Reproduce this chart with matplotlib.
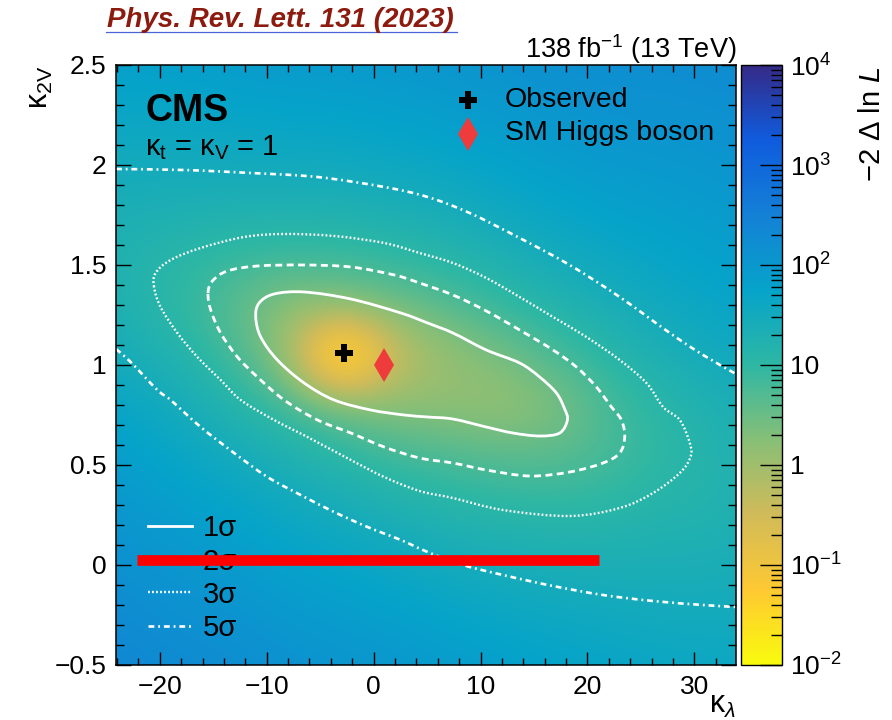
import numpy as np
import matplotlib
matplotlib.use("Agg")
import matplotlib.pyplot as plt
from matplotlib.colors import LinearSegmentedColormap, LogNorm, Normalize
from matplotlib.cm import ScalarMappable
from matplotlib.path import Path
from matplotlib.patches import PathPatch
from matplotlib.ticker import MultipleLocator, LogLocator, FixedLocator, FixedFormatter, NullFormatter

plt.rcParams['font.family'] = ['Liberation Sans', 'DejaVu Sans']
plt.rcParams['mathtext.fontset'] = 'custom'
plt.rcParams['mathtext.rm'] = 'Liberation Sans'
plt.rcParams['mathtext.it'] = 'Liberation Sans:italic'
plt.rcParams['mathtext.bf'] = 'Liberation Sans:bold'
plt.rcParams['lines.scale_dashes'] = False

# ---------------------------------------------------------------- data
# -2 Delta ln L on a coarse scan grid (rows: kappa_2V, columns: kappa_lambda)
kl_nodes = [-28, -23, -18, -13, -8, -3, 2, 7, 12, 17, 22, 27, 32, 37]
k2v_nodes = [-0.7, -0.45, -0.2, 0.05, 0.3, 0.55, 0.8, 1.05, 1.3, 1.55, 1.8, 2.05, 2.3, 2.55]
nll_grid = [
    [290, 247, 215, 201, 162, 144, 130, 106, 90, 75, 64, 52, 50, 49.6],
    [240, 202, 171, 155, 122, 105, 92, 74, 62, 53, 46, 40, 38.7, 38],
    [195, 162, 133, 114, 87, 72, 60.7, 47.6, 39.8, 34.6, 31.3, 29.3, 28.7, 29.5],
    [155, 126, 99, 80, 58, 46, 35.9, 27.2, 22.8, 20.4, 19.7, 21, 20.6, 28.3],
    [120, 95, 70, 51.7, 35.2, 25.4, 18.1, 13.4, 11.0, 10.3, 11.1, 14.1, 15.3, 21.2],
    [88, 68, 46, 29.6, 18.6, 11.8, 6.9, 5.4, 4.37, 4.16, 5.94, 9.8, 14.8, 20.5],
    [60, 45, 27.4, 14.4, 6.7, 2.6, 1.67, 1.46, 1.15, 1.85, 6.09, 11.9, 19.1, 26.4],
    [38, 24.8, 15.2, 6.4, 1.16, 0.003, 0.35, 1.19, 2.4, 5.8, 11.5, 22, 30.7, 40],
    [26, 16.4, 9.3, 3.97, 1.51, 1.83, 2.82, 4.8, 8.6, 15.1, 24, 35, 46, 57],
    [23, 15.6, 11.9, 8.7, 7.9, 8.2, 9.9, 13.4, 20.6, 30.7, 41.6, 52, 65, 78],
    [26, 22.5, 21, 19.6, 19.3, 20, 23.4, 28.7, 38.8, 52, 65, 74, 86, 101],
    [34, 32.8, 33, 34.6, 36.5, 38, 43.7, 51, 64, 80, 94, 100, 113, 128],
    [50, 48.7, 50, 56, 61, 63, 71, 80, 95, 113, 129, 132, 144, 159],
    [70, 70, 73, 84, 91, 93, 104, 116, 132, 151, 169, 165, 178, 190],
]

# confidence contours (kappa_lambda, kappa_2V)
c1_kl = [-11.03, -10.71, -9.31, -6.50, -2.13, 2.55, 5.05, 7.42, 10.54, 13.66, 15.53, 17.10, 17.87,
         18.13, 17.41, 15.53, 13.03, 10.54, 7.42, 5.05, 2.87, -0.26, -3.69, -6.50, -9.00, -10.56]
c1_k2v = [1.24, 1.31, 1.355, 1.365, 1.33, 1.26, 1.21, 1.16, 1.075, 1.01, 0.94, 0.86, 0.78,
          0.725, 0.66, 0.645, 0.66, 0.69, 0.73, 0.74, 0.75, 0.775, 0.825, 0.91, 1.025, 1.14]
c2_kl = [-15.49, -15.08, -13.68, -10.87, -6.50, -2.13, 1.93, 4.30, 7.42, 10.54, 13.66, 16.78, 18.97,
         20.84, 22.25, 23.18, 23.49, 23.02, 21.46, 18.34, 14.60, 10.54, 7.42, 4.30, 0.99, -2.13,
         -5.25, -8.37, -10.87, -12.74, -14.31, -15.24]
c2_k2v = [1.36, 1.42, 1.47, 1.495, 1.50, 1.49, 1.45, 1.41, 1.35, 1.27, 1.175, 1.075, 0.99,
          0.89, 0.79, 0.725, 0.64, 0.56, 0.51, 0.465, 0.445, 0.475, 0.51, 0.535, 0.59, 0.66,
          0.725, 0.825, 0.94, 1.04, 1.16, 1.275]
c3_kl = [-20.54, -20.39, -18.99, -16.18, -12.12, -8.37, -3.69, 0.99, 4.30, 7.42, 10.54, 13.66,
         16.78, 19.91, 23.02, 25.52, 27.08, 28.64, 29.58, 29.64, 28.64, 26.14, 23.02, 18.34, 12.10,
         7.42, 4.30, 0.99, -2.13, -6.19, -9.31, -12.43, -14.31, -16.49, -18.36, -19.93]
c3_k2v = [1.39, 1.46, 1.525, 1.585, 1.64, 1.655, 1.645, 1.61, 1.56, 1.51, 1.435, 1.34,
          1.24, 1.14, 1.025, 0.91, 0.79, 0.725, 0.61, 0.54, 0.46, 0.36, 0.285, 0.245, 0.275,
          0.335, 0.37, 0.44, 0.525, 0.64, 0.725, 0.825, 0.925, 1.04, 1.16, 1.29]
c5_upper_kl = [-24.1, -17.73, -11.50, -5.25, 0.99, 5.05, 8.98, 13.66, 18.34, 23.02, 27.71, 30.82, 33.9]
c5_upper_k2v = [1.98, 1.975, 1.96, 1.94, 1.89, 1.84, 1.76, 1.635, 1.50, 1.34, 1.16, 1.05, 0.955]
c5_lower_kl = [-24.1, -22.73, -20.23, -18.99, -16.18, -13.05, -9.93, -6.82, -3.69, -0.57, 2.55,
               5.05, 8.35, 12.10, 16.78, 21.46, 26.14, 30.82, 33.9]
c5_lower_k2v = [1.08, 1.015, 0.875, 0.825, 0.69, 0.56, 0.44, 0.35, 0.265, 0.19, 0.125,
                0.065, 0.0, -0.05, -0.105, -0.15, -0.18, -0.20, -0.21]

best_fit = (-2.8, 1.06)
sm_point = (1.0, 1.0)

sigma_labels = ["1\u03c3", "2\u03c3", "3\u03c3", "5\u03c3"]
cbar_ticks = [1e-2, 1e-1, 1, 10, 1e2, 1e3, 1e4]
cbar_ticklabels = [r"$10^{-2}$", r"$10^{-1}$", "1", "10", r"$10^{2}$", r"$10^{3}$", r"$10^{4}$"]

# strike bar over the legend
strike_kl = [-22.1, 21.06]
strike_k2v = [0.027, 0.027]

# ---------------------------------------------------------------- style
bird = [(0.2082, 0.1664, 0.5293), (0.0592, 0.3599, 0.8684), (0.0780, 0.5041, 0.8385),
        (0.0232, 0.6419, 0.7914), (0.1802, 0.7178, 0.6425), (0.5301, 0.7492, 0.4662),
        (0.8186, 0.7328, 0.3499), (0.9956, 0.7862, 0.1968), (0.9764, 0.9832, 0.0539)]
cmap = LinearSegmentedColormap.from_list("bird_r", bird[::-1], N=512)

style_1 = dict(color="white", lw=2.0, linestyle="-")
style_2 = dict(color="white", lw=2.0, linestyle=(0, (5.0, 3.2)))
style_3 = dict(color="white", lw=1.7, linestyle=(0, (1.3, 1.6)))
style_5 = dict(color="white", lw=1.9, linestyle=(0, (4.2, 2.8, 1.3, 2.8)))
styles = [style_1, style_2, style_3, style_5]

W, H = 892, 720
fig = plt.figure(figsize=(W / 100, H / 100), dpi=100)
ax_l, ax_r, ax_t, ax_b = 116, 736, 65, 665
ax = fig.add_axes([ax_l / W, 1 - ax_b / H, (ax_r - ax_l) / W, (ax_b - ax_t) / H])
cax = fig.add_axes([741 / W, 1 - ax_b / H, 41 / W, (ax_b - ax_t) / H])

# ---------------------------------------------------------------- heat map
grid = np.array(nll_grid, dtype=float)
dx = kl_nodes[1] - kl_nodes[0]
dy = k2v_nodes[1] - k2v_nodes[0]
extent = (kl_nodes[0] - dx / 2, kl_nodes[-1] + dx / 2, k2v_nodes[0] - dy / 2, k2v_nodes[-1] + dy / 2)
ax.imshow(np.log10(grid), cmap=cmap, norm=Normalize(-2, 4), origin="lower", extent=extent,
          aspect="auto", interpolation="bicubic", zorder=0)


# ---------------------------------------------------------------- contours
def smooth_path(xs, ys, closed):
    """Cubic Bezier path through the given points (Catmull-Rom tangents)."""
    p = np.column_stack([xs, ys]).astype(float)
    n = len(p)
    if closed:
        idx = lambda i: p[i % n]
        segs = range(n)
    else:
        idx = lambda i: p[min(max(i, 0), n - 1)]
        segs = range(n - 1)
    verts = [p[0]]
    codes = [Path.MOVETO]
    for i in segs:
        p0, p1, p2, p3 = idx(i - 1), idx(i), idx(i + 1), idx(i + 2)
        verts += [p1 + (p2 - p0) / 6.0, p2 - (p3 - p1) / 6.0, p2]
        codes += [Path.CURVE4] * 3
    return Path(verts, codes)


def draw_contour(xs, ys, closed, style):
    patch = PathPatch(smooth_path(xs, ys, closed), fill=False, edgecolor=style["color"],
                      lw=style["lw"], linestyle=style["linestyle"], capstyle="butt", zorder=3)
    ax.add_patch(patch)


draw_contour(c1_kl, c1_k2v, True, style_1)
draw_contour(c2_kl, c2_k2v, True, style_2)
draw_contour(c3_kl, c3_k2v, True, style_3)
draw_contour(c5_upper_kl, c5_upper_k2v, False, style_5)
draw_contour(c5_lower_kl, c5_lower_k2v, False, style_5)

ax.plot(*best_fit, marker="P", ms=13.5, color="black", mec="black", mew=0, ls="none", zorder=5)
ax.plot(*sm_point, marker="d", ms=17, color="#EE3B3B", mew=0, ls="none", zorder=5)

ax.set_xlim(-24.1, 33.9)
ax.set_ylim(-0.5, 2.5)

# ---------------------------------------------------------------- axes
ax.xaxis.set_minor_locator(MultipleLocator(2))
ax.yaxis.set_minor_locator(MultipleLocator(0.1))
ax.set_xticks([-20, -10, 0, 10, 20, 30])
ax.set_xticklabels(["\u221220", "\u221210", "0", "10", "20", "30"])
ax.set_yticks([-0.5, 0, 0.5, 1, 1.5, 2, 2.5])
ax.set_yticklabels(["\u22120.5", "0", "0.5", "1", "1.5", "2", "2.5"])
ax.tick_params(which="both", direction="in", top=True, right=True, width=1.0, labelsize=19,
               colors="black")
ax.xaxis.set_tick_params(which="major", length=9.5, pad=7)
ax.xaxis.set_tick_params(which="minor", length=5)
ax.yaxis.set_tick_params(which="major", length=10.5, pad=7)
ax.yaxis.set_tick_params(which="minor", length=5.5)
for s in ax.spines.values():
    s.set_linewidth(1.1)
    s.set_zorder(10)

# ---------------------------------------------------------------- colour bar
cb = fig.colorbar(ScalarMappable(norm=LogNorm(1e-2, 1e4), cmap=cmap), cax=cax)
cb.outline.set_linewidth(1.0)
cax.yaxis.set_ticks_position("right")
cax.yaxis.set_major_locator(FixedLocator(cbar_ticks))
cax.yaxis.set_major_formatter(FixedFormatter(cbar_ticklabels))
cax.yaxis.set_minor_locator(LogLocator(base=10, subs=np.arange(2, 10), numticks=20))
cax.yaxis.set_minor_formatter(NullFormatter())
cax.tick_params(which="both", direction="in", width=1.0, labelsize=19, pad=6)
cax.tick_params(which="major", length=16)
cax.tick_params(which="minor", length=8)

# ---------------------------------------------------------------- legends and labels
for i, (lbl, st) in enumerate(zip(sigma_labels, styles)):
    fy = (ax_b - (526 + 33.2 * i)) / (ax_b - ax_t)
    ax.plot([0.052, 0.122], [fy, fy], transform=ax.transAxes, **st, zorder=6)
    ax.text(0.140, fy - 0.004, lbl, transform=ax.transAxes, fontsize=21, va="center", ha="left", zorder=6)

ax.plot([0.568], [0.9417], transform=ax.transAxes, marker="P", ms=13.5, color="black", mew=0, zorder=6)
ax.text(0.627, 0.9417, "Observed", transform=ax.transAxes, fontsize=20.5, va="center", ha="left")
ax.plot([0.568], [0.8850], transform=ax.transAxes, marker="d", ms=17, color="#EE3B3B", mew=0, zorder=6)
ax.text(0.627, 0.8867, "SM Higgs boson", transform=ax.transAxes, fontsize=20.5, va="center", ha="left")

ax.text(0.047, 0.953, "CMS", transform=ax.transAxes, fontsize=27, fontweight="bold", va="top", ha="left")
ax.text(0.047, 0.862, "\u03ba$_{\\mathrm{t}}$ = \u03ba$_{\\mathrm{V}}$ = 1", transform=ax.transAxes,
        fontsize=21, va="center", ha="left")

ax.plot(strike_kl, strike_k2v, color="red", lw=7.7, solid_capstyle="butt", zorder=8)

fig.text(ax_r / W, 1 - 58 / H, "138 fb$^{\\mathrm{-1}}$ (13 TeV)", fontsize=19.5, ha="right", va="baseline")
fig.text(40 / W, 1 - 65 / H, "\u03ba$_{\\mathrm{2V}}$", fontsize=22, rotation=90, ha="center", va="top")
fig.text(ax_r / W, 1 - 713 / H, "\u03ba$_{\\lambda}$", fontsize=22, ha="right", va="baseline")
fig.text(872 / W, 1 - 66 / H, "\u22122 \u0394 ln $\\mathit{L}$", fontsize=21, rotation=90,
         ha="center", va="top")

fig.text(107 / W, 1 - 27 / H, "Phys. Rev. Lett. 131 (2023)", fontsize=20, fontweight="bold",
         fontstyle="italic", color="#8C1A0E", ha="left", va="baseline")
fig.add_artist(plt.Line2D([106 / W, 457 / W], [1 - 31.5 / H, 1 - 31.5 / H], color="#4A63D8", lw=0.9))

fig.savefig("out.png", dpi=100)
